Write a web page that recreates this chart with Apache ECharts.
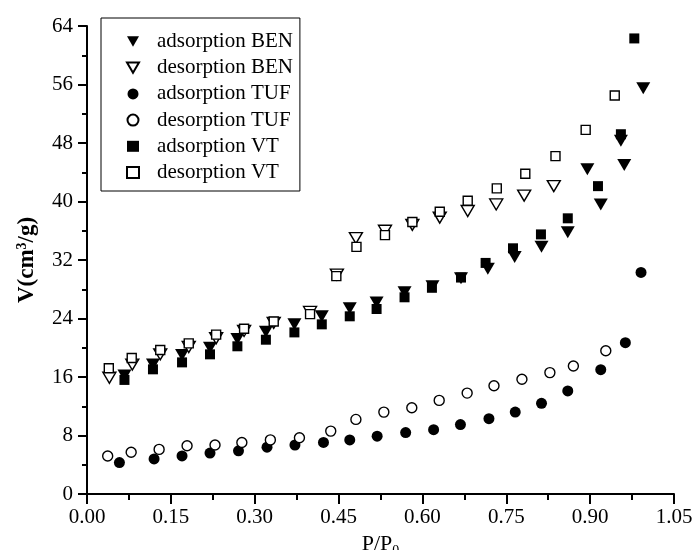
<!DOCTYPE html>
<html>
<head>
<meta charset="utf-8">
<script src="https://cdn.jsdelivr.net/npm/echarts@6/dist/echarts.min.js"></script>
<style>html,body{margin:0;padding:0;background:#fff}#c{width:694px;height:550px}</style>
</head>
<body>
<div id="c"></div>
<script>
var xTicks = [0.00, 0.15, 0.30, 0.45, 0.60, 0.75, 0.90, 1.05];
var yTicks = [0, 8, 16, 24, 32, 40, 48, 56, 64];

var adsBEN = [[0.067,16.2],[0.118,17.7],[0.170,19.0],[0.220,20.0],[0.269,21.2],[0.320,22.2],[0.371,23.2],[0.420,24.3],[0.470,25.4],[0.518,26.2],[0.568,27.6],[0.618,28.4],[0.669,29.5],[0.717,30.8],[0.765,32.4],[0.813,33.8],[0.860,35.8],[0.895,44.4],[0.919,39.6],[0.955,48.3],[0.961,45.0],[0.995,55.5]];
var desBEN = [[0.040,15.9],[0.081,17.7],[0.131,19.1],[0.182,20.1],[0.231,21.3],[0.281,22.3],[0.334,23.4],[0.399,24.9],[0.447,30.0],[0.481,35.0],[0.533,36.0],[0.582,36.8],[0.631,37.8],[0.681,38.7],[0.732,39.6],[0.782,40.8],[0.835,42.1]];
var adsTUF = [[0.058,4.3],[0.120,4.8],[0.170,5.2],[0.220,5.6],[0.271,5.9],[0.322,6.4],[0.372,6.7],[0.423,7.05],[0.470,7.4],[0.519,7.9],[0.570,8.4],[0.620,8.8],[0.668,9.5],[0.719,10.3],[0.766,11.2],[0.813,12.4],[0.860,14.1],[0.919,17.0],[0.963,20.7],[0.991,30.3]];
var desTUF = [[0.037,5.2],[0.079,5.7],[0.129,6.1],[0.179,6.6],[0.229,6.7],[0.277,7.05],[0.328,7.4],[0.380,7.7],[0.436,8.6],[0.481,10.2],[0.531,11.2],[0.581,11.8],[0.630,12.8],[0.680,13.8],[0.728,14.8],[0.778,15.7],[0.828,16.6],[0.870,17.5],[0.928,19.6]];
var adsVT = [[0.067,15.6],[0.118,17.05],[0.170,18.0],[0.220,19.1],[0.269,20.2],[0.320,21.1],[0.371,22.1],[0.420,23.2],[0.470,24.3],[0.518,25.3],[0.568,26.9],[0.617,28.2],[0.669,29.6],[0.713,31.6],[0.762,33.6],[0.812,35.5],[0.860,37.7],[0.914,42.1],[0.955,49.2],[0.979,62.3]];
var desVT = [[0.039,17.2],[0.080,18.6],[0.131,19.7],[0.182,20.6],[0.231,21.8],[0.281,22.6],[0.334,23.6],[0.399,24.6],[0.446,29.8],[0.482,33.8],[0.533,35.4],[0.582,37.2],[0.631,38.6],[0.681,40.1],[0.733,41.8],[0.784,43.8],[0.838,46.2],[0.892,49.8],[0.944,54.5]];

var seriesNames = ['adsorption BEN','desorption BEN','adsorption TUF','desorption TUF','adsorption VT','desorption VT'];

var FONT = 'Liberation Serif';
var DOWN_TRI = 'path://M0,0L14,0L7,12Z';
var chart = echarts.init(document.getElementById('c'), null, {renderer: 'canvas'});

function filled(name, data, symbol, size, rot) {
  return {
    name: name, type: 'scatter', data: data, symbol: symbol, symbolSize: size,
    symbolRotate: rot || 0,
    itemStyle: {color: '#000', opacity: 1},
    emphasis: {disabled: true}, animation: false
  };
}
function hollow(name, data, symbol, size, rot) {
  return {
    name: name, type: 'scatter', data: data, symbol: symbol, symbolSize: size,
    symbolRotate: rot || 0,
    itemStyle: {color: '#fff', borderColor: '#000', borderWidth: 1.4, opacity: 1},
    emphasis: {disabled: true}, animation: false
  };
}

chart.setOption({
  animation: false,
  backgroundColor: '#fff',
  grid: {left: 87, right: 20, top: 26, bottom: 56, containLabel: false, outerBoundsMode: 'none'},
  legend: {
    orient: 'vertical', left: 101, top: 18,
    backgroundColor: '#fff',
    borderColor: '#000', borderWidth: 1,
    padding: [13, 7, 8, 25],
    itemWidth: 12, itemHeight: 11, itemGap: 5.2,
    symbolRotate: 0,
    textStyle: {fontFamily: FONT, fontSize: 21, color: '#000', padding: [0, 0, 0, 13]},
    data: [
      {name: seriesNames[0], icon: DOWN_TRI},
      {name: seriesNames[1], icon: DOWN_TRI},
      {name: seriesNames[2], icon: 'circle'},
      {name: seriesNames[3], icon: 'circle'},
      {name: seriesNames[4], icon: 'rect'},
      {name: seriesNames[5], icon: 'rect'}
    ]
  },
  xAxis: {
    type: 'value', min: 0, max: 1.05, interval: 0.15,
    name: 'P/P{sub|0}', nameLocation: 'middle', nameGap: 36,
    nameTextStyle: {fontFamily: FONT, fontSize: 22, color: '#000',
      rich: {sub: {fontFamily: FONT, fontSize: 14, color: '#000', verticalAlign: 'bottom', padding: [14, 0, 0, 0]}}},
    axisLine: {show: true, onZero: false, lineStyle: {color: '#000', width: 2}},
    axisTick: {show: true, inside: false, length: 10, lineStyle: {color: '#000', width: 2}},
    minorTick: {show: true, splitNumber: 2, length: 6, lineStyle: {color: '#000', width: 2}},
    splitLine: {show: false},
    axisLabel: {fontFamily: FONT, fontSize: 21, color: '#000', margin: 13,
      formatter: function (v) { return v.toFixed(2); }}
  },
  yAxis: {
    type: 'value', min: 0, max: 64, interval: 8,
    name: 'V(cm{sup|3}/g)', nameLocation: 'middle', nameGap: 48, nameRotate: 90,
    nameTextStyle: {fontFamily: FONT, fontSize: 23, fontWeight: 'bold', color: '#000',
      rich: {sup: {fontFamily: FONT, fontSize: 14, fontWeight: 'bold', color: '#000', verticalAlign: 'top', padding: [0, 0, 10, 0]}}},
    axisLine: {show: true, onZero: false, lineStyle: {color: '#000', width: 2}},
    axisTick: {show: true, inside: false, length: 9, lineStyle: {color: '#000', width: 2}},
    minorTick: {show: true, splitNumber: 2, length: 5, lineStyle: {color: '#000', width: 2}},
    splitLine: {show: false},
    axisLabel: {fontFamily: FONT, fontSize: 21, color: '#000', margin: 14}
  },
  series: [
    filled(seriesNames[0], adsBEN, 'triangle', [14, 12], 180),
    hollow(seriesNames[1], desBEN, 'triangle', [13, 11], 180),
    filled(seriesNames[2], adsTUF, 'circle', 11),
    hollow(seriesNames[3], desTUF, 'circle', 10),
    filled(seriesNames[4], adsVT, 'rect', 10),
    hollow(seriesNames[5], desVT, 'rect', 9)
  ]
});
</script>
</body>
</html>
